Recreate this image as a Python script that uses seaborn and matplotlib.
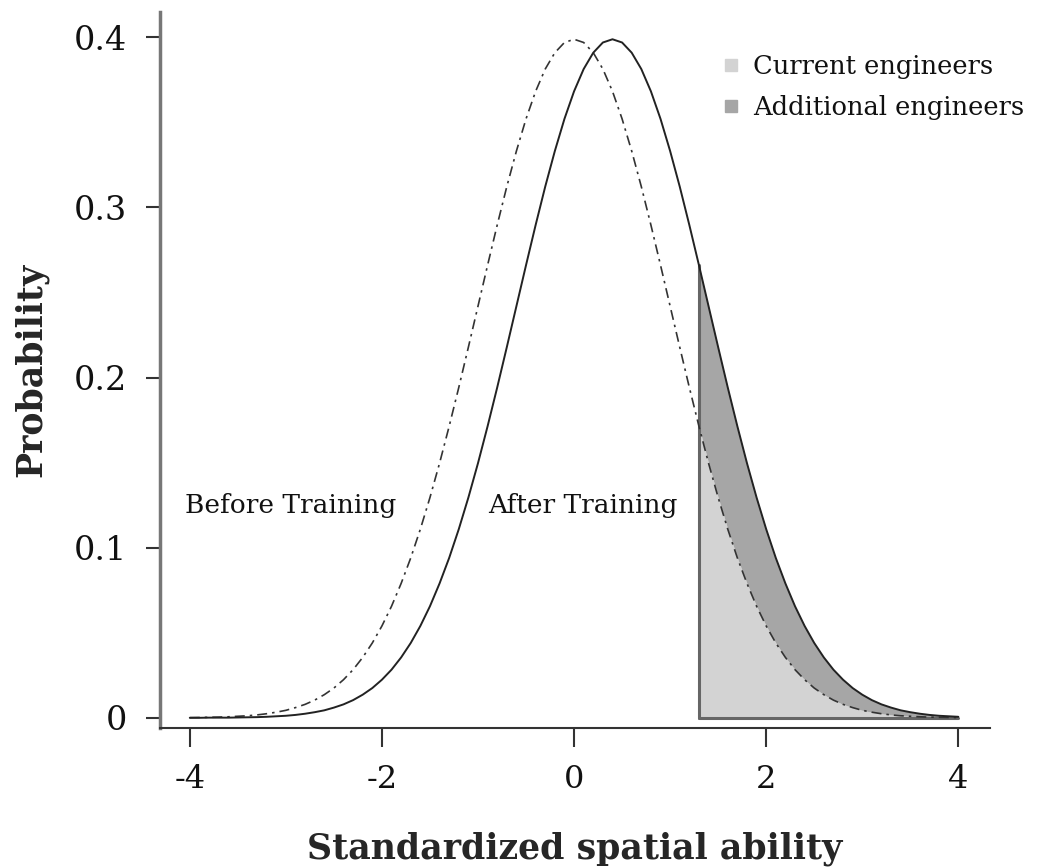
import matplotlib
matplotlib.use("Agg")
import matplotlib.pyplot as plt
import seaborn as sns
import pandas as pd
from matplotlib.lines import Line2D

# x grid (standardized spatial ability), step 0.1
x_vals = [-4.0, -3.9, -3.8, -3.7, -3.6, -3.5, -3.4, -3.3, -3.2, -3.1,
          -3.0, -2.9, -2.8, -2.7, -2.6, -2.5, -2.4, -2.3, -2.2, -2.1,
          -2.0, -1.9, -1.8, -1.7, -1.6, -1.5, -1.4, -1.3, -1.2, -1.1,
          -1.0, -0.9, -0.8, -0.7, -0.6, -0.5, -0.4, -0.3, -0.2, -0.1,
          0.0, 0.1, 0.2, 0.3, 0.4, 0.5, 0.6, 0.7, 0.8, 0.9,
          1.0, 1.1, 1.2, 1.3, 1.4, 1.5, 1.6, 1.7, 1.8, 1.9,
          2.0, 2.1, 2.2, 2.3, 2.4, 2.5, 2.6, 2.7, 2.8, 2.9,
          3.0, 3.1, 3.2, 3.3, 3.4, 3.5, 3.6, 3.7, 3.8, 3.9, 4.0]

# density (before training)
before_vals = [0.0001, 0.0002, 0.0003, 0.0004, 0.0006, 0.0009, 0.0012, 0.0017, 0.0024, 0.0033,
               0.0044, 0.0060, 0.0079, 0.0104, 0.0136, 0.0175, 0.0224, 0.0283, 0.0355, 0.0440,
               0.0540, 0.0656, 0.0790, 0.0940, 0.1109, 0.1295, 0.1497, 0.1714, 0.1942, 0.2179,
               0.2420, 0.2661, 0.2897, 0.3123, 0.3332, 0.3521, 0.3683, 0.3814, 0.3910, 0.3970,
               0.3989, 0.3970, 0.3910, 0.3814, 0.3683, 0.3521, 0.3332, 0.3123, 0.2897, 0.2661,
               0.2420, 0.2179, 0.1942, 0.1714, 0.1497, 0.1295, 0.1109, 0.0940, 0.0790, 0.0656,
               0.0540, 0.0440, 0.0355, 0.0283, 0.0224, 0.0175, 0.0136, 0.0104, 0.0079, 0.0060,
               0.0044, 0.0033, 0.0024, 0.0017, 0.0012, 0.0009, 0.0006, 0.0004, 0.0003, 0.0002, 0.0001]

# density (after training)
after_vals = [0.0000, 0.0000, 0.0001, 0.0001, 0.0001, 0.0002, 0.0003, 0.0004, 0.0006, 0.0009,
              0.0012, 0.0017, 0.0024, 0.0033, 0.0044, 0.0060, 0.0079, 0.0104, 0.0136, 0.0175,
              0.0224, 0.0283, 0.0355, 0.0440, 0.0540, 0.0656, 0.0790, 0.0940, 0.1109, 0.1295,
              0.1497, 0.1714, 0.1942, 0.2179, 0.2420, 0.2661, 0.2897, 0.3123, 0.3332, 0.3521,
              0.3683, 0.3814, 0.3910, 0.3970, 0.3989, 0.3970, 0.3910, 0.3814, 0.3683, 0.3521,
              0.3332, 0.3123, 0.2897, 0.2661, 0.2420, 0.2179, 0.1942, 0.1714, 0.1497, 0.1295,
              0.1109, 0.0940, 0.0790, 0.0656, 0.0540, 0.0440, 0.0355, 0.0283, 0.0224, 0.0175,
              0.0136, 0.0104, 0.0079, 0.0060, 0.0044, 0.0033, 0.0024, 0.0017, 0.0012, 0.0009, 0.0006]

cutoff = 1.3
x_ticks = [-4, -2, 0, 2, 4]
x_ticklabels = ["-4", "-2", "0", "2", "4"]
y_ticks = [0, 0.1, 0.2, 0.3, 0.4]
y_ticklabels = ["0", "0.1", "0.2", "0.3", "0.4"]
legend_labels = ["Current engineers", "Additional engineers"]

df = pd.DataFrame({"x": x_vals, "before": before_vals, "after": after_vals})
tail = df[df["x"] >= cutoff - 1e-9]

sns.set_style("white")
plt.rcParams["font.family"] = ["DejaVu Serif"]
plt.rcParams["text.color"] = "#111111"

light = "#d3d3d3"
dark = "#a6a6a6"

fig = plt.figure(figsize=(10.37, 8.67), dpi=100)
ax = fig.add_axes([0.1543, 0.1603, 0.8004, 0.826])

# shaded tail regions
ax.fill_between(tail["x"], 0, tail["before"], color=light, lw=0, zorder=1)
ax.fill_between(tail["x"], tail["before"], tail["after"], color=dark, lw=0, zorder=1)
ax.plot([cutoff, cutoff], [0, tail["after"].iloc[0]], color="#666666", lw=2.2, zorder=2)
ax.plot([cutoff, tail["x"].iloc[-1]], [0, 0], color="#666666", lw=2.2, zorder=2)

sns.lineplot(data=df, x="x", y="before", ax=ax, color="#333333", lw=1.2,
             linestyle=(0, (6, 3, 1.5, 3)), zorder=3)
sns.lineplot(data=df, x="x", y="after", ax=ax, color="#222222", lw=1.4, zorder=3)

ax.set_xlim(-4.31, 4.33)
ax.set_ylim(-0.006, 0.415)
ax.set_xticks(x_ticks)
ax.set_xticklabels(x_ticklabels)
ax.set_yticks(y_ticks)
ax.set_yticklabels(y_ticklabels)

for s in ["top", "right"]:
    ax.spines[s].set_visible(False)
ax.spines["left"].set_color("#777777")
ax.spines["left"].set_linewidth(2.5)
ax.spines["bottom"].set_color("#333333")
ax.spines["bottom"].set_linewidth(1.5)

ax.tick_params(axis="x", direction="out", length=14, width=1.5, color="#333333",
               labelsize=23, pad=12, bottom=True, labelcolor="#111111")
ax.tick_params(axis="y", direction="out", length=10, width=1.5, color="#333333",
               labelsize=24, pad=14, left=True, labelcolor="#111111")

ax.set_xlabel("Standardized spatial ability", fontsize=25, fontweight="bold", labelpad=26)
ax.set_ylabel("Probability", fontsize=25, fontweight="bold", labelpad=18)

ax.text(-2.95, 0.125, "Before Training", fontsize=19, ha="center", va="center")
ax.text(0.09, 0.125, "After Training", fontsize=19, ha="center", va="center")

handles = [Line2D([], [], marker="s", linestyle="none", markersize=9, color=light),
           Line2D([], [], marker="s", linestyle="none", markersize=9, color=dark)]
ax.legend(handles, legend_labels, loc="upper left", bbox_to_anchor=(0.665, 0.955),
          frameon=False, fontsize=18.5, handlelength=0.7, handletextpad=0.5,
          labelspacing=0.6, borderaxespad=0)

fig.savefig("out.png", dpi=100)
